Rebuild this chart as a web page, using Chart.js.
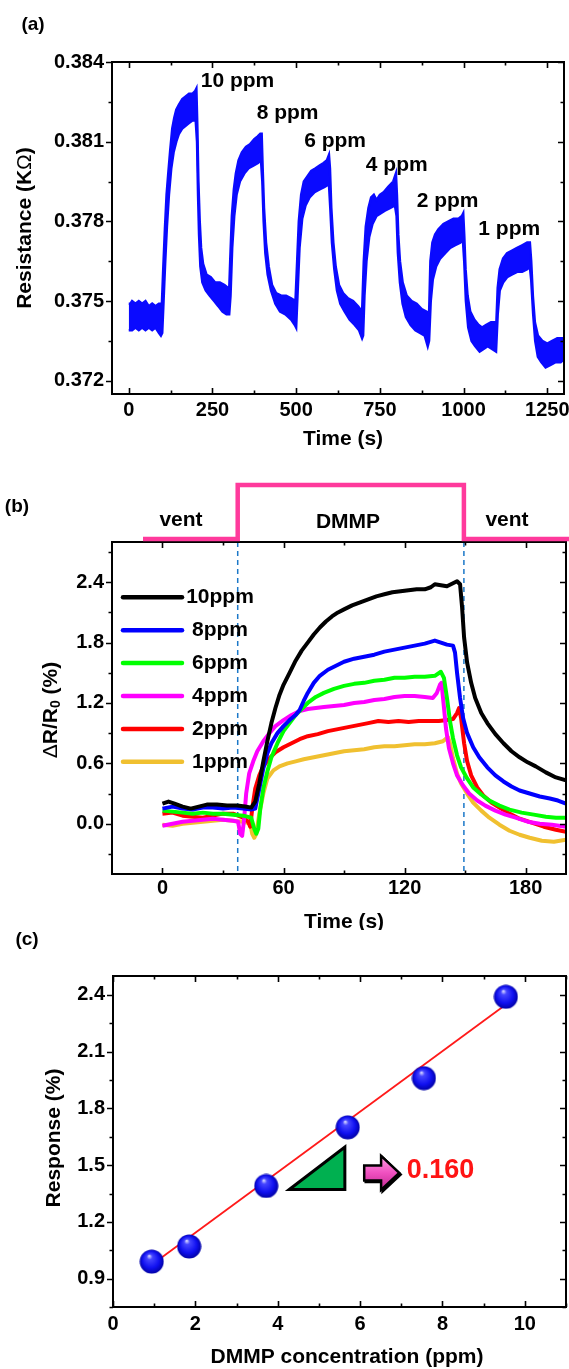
<!DOCTYPE html>
<html>
<head>
<meta charset="utf-8">
<script src="https://cdn.jsdelivr.net/npm/chart.js@4.4.1/dist/chart.umd.min.js"></script>
<style>
  html, body { margin: 0; padding: 0; background: #fff; overflow: hidden; }
  #wrap { position: relative; width: 569px; height: 1369px; overflow: hidden; background: #fff; }
  canvas { position: absolute; left: 0; }
</style>
</head>
<body>
<div id="wrap">
  <canvas id="chartA" width="600" height="460" style="top:0"></canvas>
  <canvas id="chartB" width="600" height="470" style="top:460px"></canvas>
  <canvas id="chartC" width="600" height="439" style="top:930px"></canvas>
</div>
<script>
/********************  (a) resistance vs time  ********************/
// upper and lower edge of the noisy trace, [time s, resistance kOhm]
var bandUpper = [
  [0,0.3749],[5,0.3749],[10,0.3750],[20,0.3749],[30,0.3750],[40,0.3749],[50,0.3750],[60,0.3748],[70,0.3749],[80,0.3748],[90,0.3749],[99,0.3749],
  [103,0.3762],[108,0.3777],[113,0.3790],[118,0.3798],[124,0.3807],[130,0.3815],[136,0.3819],[142,0.3822],[150,0.3824],[160,0.3826],[170,0.3827],[180,0.3828],[190,0.3828],[198,0.3829],[202,0.3830],
  [205,0.3815],[208,0.3795],[212,0.3780],[216,0.3770],[222,0.3764],[232,0.3760],[245,0.3759],[258,0.3757],[272,0.3757],[286,0.3756],[296,0.3755],[300,0.3754],
  [303,0.3765],[308,0.3782],[314,0.3792],[320,0.3798],[328,0.3803],[338,0.3806],[350,0.3808],[362,0.3809],[375,0.3811],[385,0.3812],[393,0.3813],[397,0.3813],
  [400,0.3800],[404,0.3785],[410,0.3772],[418,0.3763],[428,0.3756],[440,0.3753],[455,0.3752],[470,0.3752],[485,0.3751],[498,0.3750],
  [503,0.3765],[508,0.3780],[515,0.3790],[523,0.3795],[534,0.3797],[545,0.3799],[558,0.3800],[570,0.3801],[582,0.3802],[592,0.3803],[598,0.3805],
  [601,0.3800],[605,0.3785],[611,0.3772],[618,0.3763],[628,0.3756],[640,0.3753],[655,0.3751],[670,0.3750],[685,0.3748],[697,0.3746],
  [702,0.3765],[708,0.3778],[716,0.3785],[724,0.3789],[732,0.3790],[740,0.3788],[750,0.3790],[762,0.3791],[775,0.3793],[790,0.3795],[798,0.3798],
  [801,0.3790],[805,0.3775],[810,0.3765],[818,0.3757],[830,0.3752],[845,0.3750],[860,0.3749],[875,0.3747],[890,0.3746],[897,0.3745],
  [901,0.3765],[907,0.3772],[915,0.3775],[925,0.3777],[940,0.3779],[955,0.3780],[970,0.3781],[985,0.3781],[995,0.3782],[999,0.3783],
  [1002,0.3775],[1006,0.3762],[1012,0.3752],[1020,0.3746],[1032,0.3743],[1045,0.3741],[1055,0.3740],[1068,0.3741],[1082,0.3742],[1098,0.3742],
  [1102,0.3755],[1108,0.3762],[1118,0.3766],[1130,0.3768],[1145,0.3769],[1160,0.3770],[1175,0.3771],[1190,0.3772],[1198,0.3772],
  [1202,0.3765],[1207,0.3752],[1213,0.3742],[1222,0.3737],[1235,0.3735],[1250,0.3734],[1265,0.3735],[1280,0.3736],[1300,0.3736]
];
var bandLower = [
  [0,0.3739],[10,0.3739],[20,0.3740],[30,0.3739],[40,0.3740],[50,0.3739],[60,0.3740],[70,0.3739],[80,0.3740],[90,0.3738],[96,0.3737],[100,0.3738],
  [104,0.3750],[109,0.3765],[114,0.3778],[120,0.3790],[127,0.3800],[134,0.3806],[142,0.3810],[150,0.3813],[160,0.3815],[170,0.3816],[180,0.3817],[190,0.3818],[200,0.3818],
  [204,0.3810],[207,0.3790],[210,0.3775],[214,0.3763],[220,0.3757],[230,0.3754],[242,0.3752],[255,0.3750],[268,0.3748],[280,0.3746],[292,0.3745],[300,0.3745],
  [304,0.3752],[309,0.3770],[315,0.3782],[322,0.3790],[332,0.3795],[345,0.3798],[358,0.3800],[372,0.3801],[386,0.3802],[395,0.3803],
  [399,0.3795],[403,0.3780],[408,0.3768],[415,0.3760],[425,0.3754],[438,0.3749],[452,0.3746],[468,0.3745],[485,0.3743],[496,0.3741],[500,0.3740],
  [504,0.3752],[510,0.3770],[518,0.3781],[528,0.3786],[540,0.3789],[555,0.3791],[570,0.3792],[585,0.3793],[598,0.3794],
  [602,0.3785],[607,0.3772],[614,0.3762],[622,0.3754],[632,0.3749],[645,0.3746],[660,0.3743],[675,0.3741],[688,0.3739],[697,0.3736],[700,0.3737],
  [704,0.3752],[710,0.3765],[718,0.3774],[728,0.3779],[740,0.3782],[752,0.3783],[765,0.3784],[780,0.3785],[795,0.3786],
  [800,0.3782],[804,0.3768],[810,0.3757],[818,0.3749],[828,0.3744],[842,0.3741],[856,0.3739],[870,0.3738],[884,0.3737],[893,0.3733],[897,0.3735],
  [902,0.3750],[908,0.3758],[918,0.3763],[930,0.3766],[945,0.3768],[960,0.3770],[975,0.3771],[990,0.3772],[998,0.3773],
  [1002,0.3765],[1007,0.3750],[1014,0.3740],[1024,0.3735],[1035,0.3733],[1048,0.3731],[1060,0.3732],[1072,0.3733],[1085,0.3732],[1097,0.3731],
  [1102,0.3745],[1108,0.3754],[1118,0.3757],[1130,0.3759],[1145,0.3760],[1160,0.3761],[1175,0.3761],[1190,0.3762],[1198,0.3763],
  [1202,0.3758],[1208,0.3745],[1214,0.3735],[1222,0.3729],[1232,0.3727],[1245,0.3725],[1260,0.3726],[1275,0.3727],[1290,0.3727],[1300,0.3728]
];
var peakNames = ['10 ppm', '8 ppm', '6 ppm', '4 ppm', '2 ppm', '1 ppm'];
var peakNameTime = [215, 382, 524, 708, 860, 1044];
var peakNameRes = [0.38327, 0.38208, 0.38101, 0.38013, 0.37875, 0.37769];
var aTicksX = [0, 250, 500, 750, 1000, 1250], aMinorX = [125, 375, 625, 875, 1125];
var aTicksY = [0.372, 0.375, 0.378, 0.381, 0.384], aMinorY = [0.3735, 0.3765, 0.3795, 0.3825];

/********************  (b) relative response  ********************/
var t10 = [0,3,6,10,14,18,22,27,32,37,41,44,46,48,50,52,54,56,58,60,63,66,69,72,75,78,81,84,87,90,94,98,102,106,110,114,118,122,126,130,133,135,138,141,144,146,147.5,148.5,149.5,151,153,155,158,161,165,169,173,177,181,185,190,195,200];
var r10 = [0.20,0.22,0.20,0.17,0.15,0.17,0.19,0.19,0.18,0.18,0.17,0.16,0.22,0.40,0.62,0.82,1.00,1.15,1.28,1.38,1.50,1.62,1.72,1.80,1.88,1.95,2.01,2.06,2.10,2.13,2.17,2.20,2.23,2.26,2.28,2.30,2.31,2.32,2.33,2.33,2.35,2.38,2.37,2.36,2.39,2.41,2.38,2.15,1.85,1.60,1.40,1.25,1.10,1.00,0.89,0.80,0.72,0.66,0.61,0.57,0.51,0.46,0.43];
var t8 = [0,5,10,15,20,25,30,35,40,44,46,48,50,52,54,57,60,63,66,68,70,72,75,78,82,86,90,95,100,105,110,115,120,125,130,135,138,141,144,145,146,147.5,149,151,154,157,161,165,169,173,177,182,187,192,196,200];
var r8 = [0.15,0.17,0.15,0.14,0.16,0.16,0.15,0.16,0.15,0.14,0.15,0.35,0.55,0.70,0.80,0.90,0.97,1.03,1.08,1.13,1.22,1.30,1.40,1.47,1.53,1.57,1.61,1.64,1.66,1.68,1.71,1.73,1.75,1.77,1.79,1.82,1.80,1.78,1.77,1.70,1.50,1.25,1.05,0.90,0.76,0.66,0.56,0.48,0.42,0.37,0.33,0.30,0.27,0.25,0.23,0.20];
var t6 = [0,5,10,15,20,25,30,35,40,44,45.5,46.5,47.5,48.5,50,52,54,57,60,63,66,69,72,76,80,85,90,95,100,105,110,115,120,125,130,135,138,139.5,141,142.5,144,146,148,151,154,158,162,167,172,178,184,190,195,200];
var r6 = [0.13,0.12,0.11,0.10,0.11,0.10,0.10,0.09,0.08,0.06,-0.05,-0.10,-0.05,0.15,0.35,0.52,0.66,0.80,0.92,1.00,1.08,1.14,1.20,1.26,1.30,1.34,1.37,1.39,1.40,1.42,1.43,1.45,1.45,1.46,1.46,1.47,1.51,1.45,1.25,1.02,0.85,0.68,0.56,0.45,0.36,0.29,0.23,0.18,0.14,0.11,0.09,0.07,0.06,0.06];
var t4 = [0,5,10,15,20,25,30,35,37.5,38.5,39.5,40.5,41.5,43,45,47,50,53,56,60,64,68,72,76,80,85,90,95,100,105,110,115,120,125,130,134,136,137.5,138.3,139.3,140.5,142,144,146,149,152,156,160,165,170,175,181,187,193,200];
var r4 = [-0.02,0.00,0.02,0.03,0.04,0.05,0.04,0.03,0.02,-0.10,-0.12,0.05,0.30,0.50,0.62,0.72,0.82,0.90,0.97,1.03,1.08,1.12,1.14,1.15,1.16,1.17,1.18,1.20,1.21,1.23,1.24,1.26,1.27,1.27,1.26,1.25,1.30,1.38,1.40,1.20,0.95,0.75,0.60,0.48,0.38,0.30,0.23,0.18,0.13,0.09,0.06,0.02,0.00,-0.01,-0.03];
var t2 = [0,5,10,15,20,25,30,35,40,42.5,43.5,44.5,46,48,50,53,56,60,64,68,72,77,82,87,92,97,102,107,112,117,122,127,132,137,141,144,146,147,148,149.5,151,153,156,159,163,167,172,177,183,189,195,200];
var r2 = [0.10,0.11,0.08,0.07,0.06,0.08,0.10,0.10,0.06,0.02,-0.03,0.15,0.35,0.48,0.57,0.65,0.71,0.76,0.80,0.84,0.87,0.89,0.92,0.94,0.96,0.98,1.00,1.02,1.01,1.02,1.01,1.02,1.02,1.02,1.03,1.04,1.10,1.15,1.05,0.80,0.62,0.48,0.36,0.28,0.21,0.16,0.10,0.05,0.01,-0.03,-0.06,-0.08];
var t1 = [0,5,10,15,20,25,30,35,40,43.5,44.5,45.5,46.5,48,50,52,55,58,62,66,70,75,80,85,90,95,100,105,110,115,120,125,130,135,139,141.5,142.5,144,146,148,151,154,158,162,167,172,177,182,188,194,200];
var r1 = [-0.01,-0.02,0.00,0.01,0.02,0.03,0.04,0.03,0.02,0.00,-0.10,-0.14,-0.10,0.10,0.30,0.45,0.53,0.57,0.60,0.62,0.64,0.66,0.68,0.70,0.72,0.73,0.74,0.76,0.77,0.77,0.78,0.79,0.79,0.80,0.82,0.86,0.80,0.65,0.50,0.40,0.30,0.21,0.13,0.06,-0.01,-0.07,-0.11,-0.14,-0.17,-0.18,-0.16];
var bNames = ['10ppm', '8ppm', '6ppm', '4ppm', '2ppm', '1ppm'];
var bColors = ['#000000', '#0000ff', '#00ff00', '#ff00ff', '#ff0000', '#f0c030'];
var gasOn = 37.3, gasOff = 149.4;
var bTicksX = [0, 60, 120, 180], bMinorX = [30, 90, 150];
var bTicksY = [0, 0.6, 1.2, 1.8, 2.4], bMinorY = [-0.3, 0.3, 0.9, 1.5, 2.1, 2.7];

/********************  (c) response vs concentration  ********************/
var concPpm = [0.94, 1.85, 3.72, 5.70, 7.55, 9.54];
var responsePct = [0.99, 1.07, 1.39, 1.70, 1.96, 2.39];
var fitX = [0.95, 9.5];
var fitY = [0.975, 2.343];
var slopeText = '0.160';
var cTicksX = [0, 2, 4, 6, 8, 10], cMinorX = [1, 3, 5, 7, 9, 11];
var cTicksY = [0.9, 1.2, 1.5, 1.8, 2.1, 2.4], cMinorY = [0.75, 1.05, 1.35, 1.65, 1.95, 2.25];

/********************  common  ********************/
var FONT = "'Liberation Sans', Arial, Helvetica, sans-serif";
Chart.defaults.font.family = FONT;
Chart.defaults.font.size = 20;
Chart.defaults.font.weight = 'bold';
Chart.defaults.color = '#000';

function xy(ts, vs) {
    var out = [];
    for (var i = 0; i < ts.length; i++) out.push({x: ts[i], y: vs[i]});
    return out;
}

function axes(o) {
    return {
        x: {
            type: 'linear', min: o.xMin, max: o.xMax,
            afterBuildTicks: function(s) { s.ticks = o.xTicks.map(function(v) { return {value: v}; }); },
            afterFit: function(s) { s.height = o.xHeight; },
            grid: { display: false, drawTicks: false },
            border: { display: false },
            ticks: { padding: o.xPad, autoSkip: false, maxRotation: 0, callback: o.xFmt }
        },
        y: {
            type: 'linear', min: o.yMin, max: o.yMax,
            afterBuildTicks: function(s) { s.ticks = o.yTicks.map(function(v) { return {value: v}; }); },
            afterFit: function(s) { s.width = o.yWidth; },
            grid: { display: false, drawTicks: true, tickLength: 6 },
            border: { display: false },
            ticks: { padding: 2, autoSkip: false, callback: o.yFmt }
        }
    };
}

// frame + ticks: left ticks point out, the others point in
var framePlugin = {
    id: 'frame',
    afterDatasetsDraw: function(chart, args, opts) {
        var ctx = chart.ctx, a = chart.chartArea, x = chart.scales.x, y = chart.scales.y;
        ctx.save();
        ctx.strokeStyle = '#000';
        ctx.lineWidth = 1.6;
        ctx.beginPath();
        function xm(vals, len) {
            vals.forEach(function(v) {
                var p = Math.round(x.getPixelForValue(v)) + 0.5;
                ctx.moveTo(p, a.bottom); ctx.lineTo(p, a.bottom - len);
                ctx.moveTo(p, a.top); ctx.lineTo(p, a.top + len);
            });
        }
        function ym(vals, len) {
            vals.forEach(function(v) {
                var p = Math.round(y.getPixelForValue(v)) + 0.5;
                ctx.moveTo(a.left, p); ctx.lineTo(a.left - len, p);
                ctx.moveTo(a.right, p); ctx.lineTo(a.right - len, p);
            });
        }
        xm(opts.xMajor, 6); xm(opts.xMinor, 3.5);
        ym(opts.yMajor, 6); ym(opts.yMinor, 3.5);
        ctx.stroke();
        ctx.lineWidth = 2;
        ctx.strokeRect(a.left, a.top, a.right - a.left, a.bottom - a.top);
        ctx.restore();
    }
};

function text(ctx, s, x, y, font, align, color) {
    ctx.font = font;
    ctx.textAlign = align || 'center';
    ctx.textBaseline = 'middle';
    ctx.fillStyle = color || '#000';
    ctx.fillText(s, x, y);
}

// vertical title made of pieces (for sub-scripts / thin symbols)
function vTitle(ctx, cx, cy, parts) {
    ctx.save();
    ctx.translate(cx, cy);
    ctx.rotate(-Math.PI / 2);
    var total = 0;
    parts.forEach(function(p) { ctx.font = p.font; p.w = ctx.measureText(p.s).width; total += p.w; });
    var px = -total / 2;
    ctx.textAlign = 'left';
    ctx.textBaseline = 'middle';
    ctx.fillStyle = '#000';
    parts.forEach(function(p) { ctx.font = p.font; ctx.fillText(p.s, px, p.dy || 0); px += p.w; });
    ctx.restore();
}

var B21 = 'bold 21px ' + FONT, N21 = '21px ' + FONT;
var baseOpts = { responsive: false, animation: false, events: [], devicePixelRatio: 1 };

/********************  chart (a)  ********************/
var panelA = {
    id: 'panelA',
    afterDraw: function(chart) {
        var ctx = chart.ctx, x = chart.scales.x, y = chart.scales.y;
        for (var i = 0; i < peakNames.length; i++) {
            text(ctx, peakNames[i], x.getPixelForValue(peakNameTime[i]), y.getPixelForValue(peakNameRes[i]), B21, 'left');
        }
        text(ctx, '(a)', 33, 25, 'bold 19px ' + FONT);
        text(ctx, 'Time (s)', 343, 439, B21);
        vTitle(ctx, 25, 228, [{s: 'Resistance (K', font: B21}, {s: '\u03A9', font: N21}, {s: ')', font: B21}]);
    }
};

new Chart(document.getElementById('chartA'), {
    type: 'line',
    data: { datasets: [
        { data: bandUpper.map(function(p) { return {x: p[0], y: p[1]}; }), borderColor: '#0a0aff', backgroundColor: '#0a0aff',
          borderWidth: 2.5, fill: '+1', pointRadius: 0, tension: 0 },
        { data: bandLower.map(function(p) { return {x: p[0], y: p[1]}; }), borderColor: '#0a0aff',
          borderWidth: 2.5, fill: false, pointRadius: 0, tension: 0 }
    ]},
    options: Object.assign({}, baseOpts, {
        layout: { padding: { top: 62, right: 36, left: 0, bottom: 0 } },
        plugins: { legend: { display: false }, tooltip: { enabled: false },
                   frame: { xMajor: aTicksX, xMinor: aMinorX, yMajor: aTicksY, yMinor: aMinorY } },
        scales: axes({ xMin: -50, xMax: 1300, xTicks: aTicksX, xFmt: function(v) { return String(v); }, xHeight: 66, xPad: 4,
                       yMin: 0.3715, yMax: 0.384, yTicks: aTicksY, yFmt: function(v) { return v.toFixed(3); }, yWidth: 112 })
    }),
    plugins: [framePlugin, panelA]
});

/********************  chart (b)  ********************/
var panelB = {
    id: 'panelB',
    beforeDatasetsDraw: function(chart) {
        var ctx = chart.ctx, a = chart.chartArea, x = chart.scales.x;
        ctx.save();
        ctx.strokeStyle = '#1c78c8';
        ctx.lineWidth = 1.5;
        ctx.setLineDash([5, 4]);
        [gasOn, gasOff].forEach(function(t) {
            var p = x.getPixelForValue(t);
            ctx.beginPath(); ctx.moveTo(p, a.top); ctx.lineTo(p, a.bottom); ctx.stroke();
        });
        ctx.restore();
    },
    afterDraw: function(chart) {
        var ctx = chart.ctx, a = chart.chartArea, x = chart.scales.x;
        // gas switching step above the frame
        var xOn = x.getPixelForValue(gasOn), xOff = x.getPixelForValue(gasOff);
        ctx.save();
        ctx.strokeStyle = '#ff3a9c';
        ctx.lineWidth = 4.5;
        ctx.lineJoin = 'miter';
        ctx.beginPath();
        ctx.moveTo(143, 79); ctx.lineTo(xOn, 79); ctx.lineTo(xOn, 25);
        ctx.lineTo(xOff, 25); ctx.lineTo(xOff, 79); ctx.lineTo(600, 79);
        ctx.stroke();
        ctx.restore();
        text(ctx, 'vent', 181, 60, B21);
        text(ctx, 'DMMP', 348, 62, B21);
        text(ctx, 'vent', 507, 60, B21);
        // legend
        ctx.save();
        ctx.lineCap = 'round';
        ctx.lineWidth = 4.5;
        for (var i = 0; i < bNames.length; i++) {
            var ly = 137.3 + i * 32.9;
            ctx.strokeStyle = bColors[i];
            ctx.beginPath(); ctx.moveTo(123, ly); ctx.lineTo(182, ly); ctx.stroke();
            text(ctx, bNames[i], 220, ly, B21);
        }
        ctx.restore();
        text(ctx, '(b)', 17, 47, 'bold 19px ' + FONT);
        text(ctx, 'Time (s)', 344, 462, B21);
        vTitle(ctx, 51, 250, [{s: '\u0394', font: N21}, {s: 'R/R', font: B21},
                              {s: '0', font: 'bold 14px ' + FONT, dy: 5}, {s: ' (%)', font: B21}]);
    }
};

var bT = [t10, t8, t6, t4, t2, t1], bR = [r10, r8, r6, r4, r2, r1];
new Chart(document.getElementById('chartB'), {
    type: 'line',
    data: { datasets: bNames.map(function(n, i) {
        return { label: n, data: xy(bT[i], bR[i]), borderColor: bColors[i], borderWidth: 4,
                 pointRadius: 0, tension: 0, fill: false, borderJoinStyle: 'round' };
    }) },
    options: Object.assign({}, baseOpts, {
        layout: { padding: { top: 82, right: 34, left: 0, bottom: 0 } },
        plugins: { legend: { display: false }, tooltip: { enabled: false },
                   frame: { xMajor: bTicksX, xMinor: bMinorX, yMajor: bTicksY, yMinor: bMinorY } },
        scales: axes({ xMin: -25, xMax: 200, xTicks: bTicksX, xFmt: function(v) { return String(v); }, xHeight: 56, xPad: 2,
                       yMin: -0.5, yMax: 2.8, yTicks: bTicksY, yFmt: function(v) { return v.toFixed(1); }, yWidth: 112 })
    }),
    plugins: [framePlugin, panelB]
});

/********************  chart (c)  ********************/
function makeBall(d) {
    var c = document.createElement('canvas');
    c.width = d; c.height = d;
    var g = c.getContext('2d'), r = d / 2;
    var grad = g.createRadialGradient(r * 0.8, r * 0.55, r * 0.05, r, r, r);
    grad.addColorStop(0, '#c8c8ff');
    grad.addColorStop(0.18, '#4646ff');
    grad.addColorStop(0.65, '#1010f0');
    grad.addColorStop(1, '#0000a0');
    g.fillStyle = grad;
    g.beginPath(); g.arc(r, r, r - 0.5, 0, Math.PI * 2); g.fill();
    return c;
}

var panelC = {
    id: 'panelC',
    afterDraw: function(chart) {
        var ctx = chart.ctx, x = chart.scales.x, y = chart.scales.y;
        // slope triangle
        ctx.save();
        ctx.beginPath();
        ctx.moveTo(x.getPixelForValue(4.28), y.getPixelForValue(1.371));
        ctx.lineTo(x.getPixelForValue(5.63), y.getPixelForValue(1.596));
        ctx.lineTo(x.getPixelForValue(5.63), y.getPixelForValue(1.371));
        ctx.closePath();
        ctx.fillStyle = '#00b050';
        ctx.fill();
        ctx.lineWidth = 3;
        ctx.lineJoin = 'miter';
        ctx.strokeStyle = '#000';
        ctx.stroke();
        // block arrow
        var x0 = x.getPixelForValue(6.10), xh = x.getPixelForValue(6.51), x1 = x.getPixelForValue(6.95), yc = y.getPixelForValue(1.459);
        function arrow(dx, dy) {
            ctx.beginPath();
            ctx.moveTo(x0 + dx, yc - 7.5 + dy); ctx.lineTo(xh + dx, yc - 7.5 + dy); ctx.lineTo(xh + dx, yc - 17 + dy);
            ctx.lineTo(x1 + dx, yc + dy); ctx.lineTo(xh + dx, yc + 17 + dy); ctx.lineTo(xh + dx, yc + 7.5 + dy);
            ctx.lineTo(x0 + dx, yc + 7.5 + dy); ctx.closePath();
        }
        arrow(1.5, 1.5);
        ctx.fillStyle = '#000'; ctx.fill(); ctx.lineWidth = 2.5; ctx.stroke();
        arrow(0, 0);
        var gr = ctx.createLinearGradient(0, yc - 17, 0, yc + 17);
        gr.addColorStop(0, '#ff9ee6'); gr.addColorStop(0.5, '#f050c0'); gr.addColorStop(1, '#c02890');
        ctx.fillStyle = gr; ctx.fill(); ctx.lineWidth = 2.5; ctx.stroke();
        ctx.restore();
        text(ctx, slopeText, x.getPixelForValue(7.13), y.getPixelForValue(1.47), 'bold 27px ' + FONT, 'left', '#ff1414');
        text(ctx, '(c)', 27, 10, 'bold 19px ' + FONT);
        text(ctx, 'DMMP concentration (ppm)', 347, 427, B21);
        vTitle(ctx, 54, 208, [{s: 'Response (%)', font: B21}]);
    }
};

new Chart(document.getElementById('chartC'), {
    type: 'line',
    data: { datasets: [
        { data: xy(concPpm, responsePct), showLine: false, pointStyle: makeBall(25), pointRadius: 12, order: 0 },
        { data: xy(fitX, fitY), borderColor: '#ff1a1a', borderWidth: 1.8, pointRadius: 0, fill: false, order: 1 }
    ]},
    options: Object.assign({}, baseOpts, {
        layout: { padding: { top: 46, right: 34, left: 0, bottom: 0 } },
        plugins: { legend: { display: false }, tooltip: { enabled: false },
                   frame: { xMajor: cTicksX, xMinor: cMinorX, yMajor: cTicksY, yMinor: cMinorY } },
        scales: axes({ xMin: 0, xMax: 11, xTicks: cTicksX, xFmt: function(v) { return String(v); }, xHeight: 62, xPad: 5,
                       yMin: 0.75, yMax: 2.5, yTicks: cTicksY, yFmt: function(v) { return v.toFixed(1); }, yWidth: 113 })
    }),
    plugins: [framePlugin, panelC]
});
</script>
</body>
</html>
